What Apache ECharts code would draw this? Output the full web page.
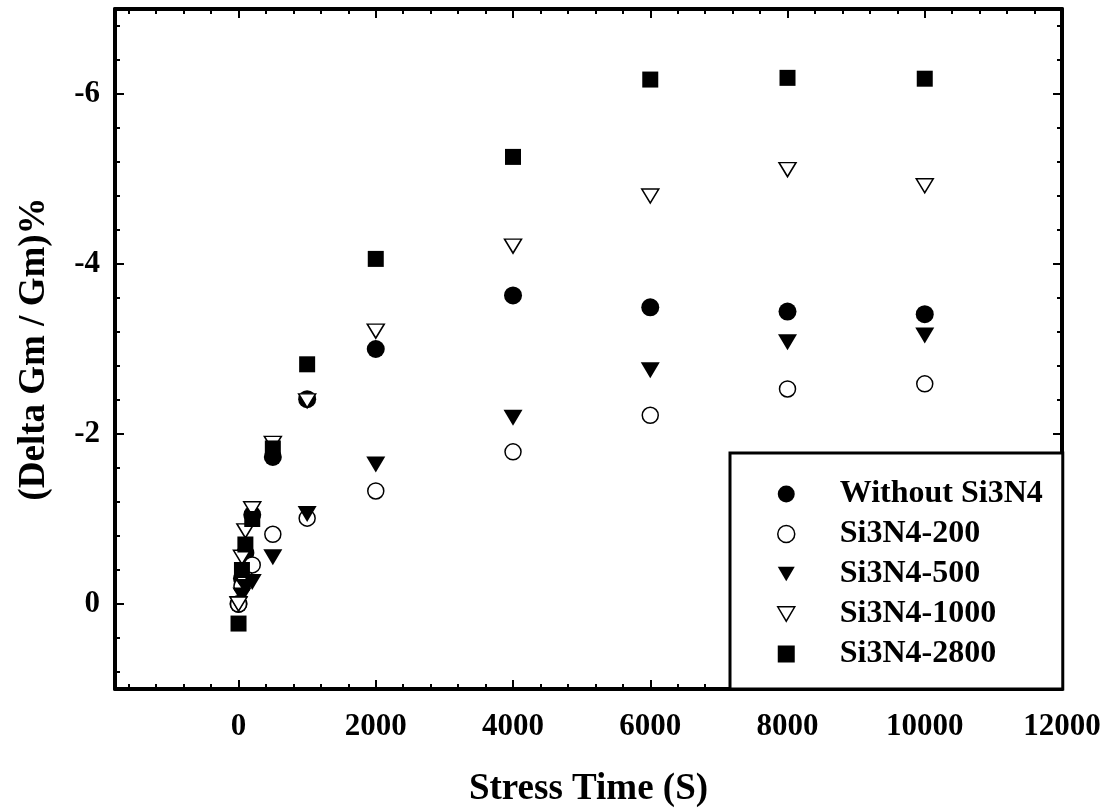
<!DOCTYPE html>
<html>
<head>
<meta charset="utf-8">
<script src="https://cdn.jsdelivr.net/npm/echarts@6/dist/echarts.min.js"></script>
<style>html,body{margin:0;padding:0;background:#fff;}#c{width:1108px;height:809px;}</style>
</head>
<body>
<div id="c"></div>
<script>
// ---- data ----
const times = [0, 50, 100, 200, 500, 1000, 2000, 4000, 6000, 8000, 10000];
const seriesNames = ['Without Si3N4', 'Si3N4-200', 'Si3N4-500', 'Si3N4-1000', 'Si3N4-2800'];
const withoutSi3N4 = [0, -0.30, -0.60, -1.05, -1.73, -2.41, -3.00, -3.63, -3.49, -3.44, -3.41];
const si3n4_200    = [0, -0.21, -0.30, -0.46, -0.82, -1.01, -1.33, -1.79, -2.22, -2.53, -2.59];
const si3n4_500    = [0, -0.10, -0.20, -0.26, -0.55, -1.06, -1.64, -2.19, -2.75, -3.08, -3.16];
const si3n4_1000   = [0, -0.55, -0.86, -1.12, -1.89, -2.39, -3.21, -4.21, -4.80, -5.11, -4.92];
const si3n4_2800   = [0.23, -0.40, -0.70, -1.00, -1.83, -2.82, -4.06, -5.26, -6.17, -6.19, -6.18];
const xMajorTicks = [0, 2000, 4000, 6000, 8000, 10000, 12000];
const xMinorTicks = [-1600, -1200, -800, -400, 400, 800, 1200, 1600, 2400, 2800, 3200, 3600, 4400, 4800, 5200, 5600, 6400, 6800, 7200, 7600, 8400, 8800, 9200, 9600, 10400, 10800, 11200, 11600];
const yMajorTicks = [-6, -4, -2, 0];
const yMinorTicks = [-6.8, -6.4, -5.6, -5.2, -4.8, -4.4, -3.6, -3.2, -2.8, -2.4, -1.6, -1.2, -0.8, -0.4, 0.4, 0.8];
const xRange = [-1800, 12000];
const yRange = [-7, 1];

// ---- chart ----
const FONT = '"Liberation Serif", "Times New Roman", serif';
const DOWN_TRI = 'path://M0,0L20,0L10,17Z';
const chart = echarts.init(document.getElementById('c'), null, {renderer: 'canvas'});

function zip(xs, ys) { return xs.map((x, i) => [x, ys[i]]); }

function xAx(position, ticks, len, main, showLine) {
  return {
    type: 'value', position: position, min: xRange[0], max: xRange[1],
    axisLine: {show: showLine, onZero: false, lineStyle: {color: '#000', width: 4}},
    axisTick: {show: true, inside: true, length: len, customValues: ticks, lineStyle: {color: '#000', width: 2}},
    axisLabel: main ? {show: true, customValues: xMajorTicks, margin: 22, color: '#000',
      fontFamily: FONT, fontWeight: 'bold', fontSize: 31, formatter: v => String(v)} : {show: false},
    splitLine: {show: false},
    name: main ? 'Stress Time (S)' : '', nameLocation: 'middle', nameGap: 82,
    nameTextStyle: {fontFamily: FONT, fontWeight: 'bold', fontSize: 37, color: '#000'}
  };
}
function yAx(position, ticks, len, main, showLine) {
  return {
    type: 'value', position: position, inverse: true, min: yRange[0], max: yRange[1],
    axisLine: {show: showLine, onZero: false, lineStyle: {color: '#000', width: 4}},
    axisTick: {show: true, inside: true, length: len, customValues: ticks, lineStyle: {color: '#000', width: 2}},
    axisLabel: main ? {show: true, customValues: yMajorTicks, margin: 15, color: '#000',
      fontFamily: FONT, fontWeight: 'bold', fontSize: 31, formatter: v => String(v)} : {show: false},
    splitLine: {show: false},
    name: main ? '(Delta Gm / Gm)%' : '', nameLocation: 'middle', nameGap: 62,
    nameTextStyle: {fontFamily: FONT, fontWeight: 'bold', fontSize: 37, color: '#000'}
  };
}

const filled = {color: '#000', borderColor: '#000', borderWidth: 0, opacity: 1};
const hollow = {color: '#fff', borderColor: '#000', borderWidth: 1.5, opacity: 1};

const styles = [
  {symbol: 'circle', size: 18, item: filled},
  {symbol: 'circle', size: 16, item: hollow},
  {symbol: DOWN_TRI, size: [19, 16], item: filled},
  {symbol: DOWN_TRI, size: [17, 14], item: hollow},
  {symbol: 'rect', size: 16, item: filled}
];
const allData = [withoutSi3N4, si3n4_200, si3n4_500, si3n4_1000, si3n4_2800];

const series = seriesNames.map((name, i) => ({
  name: name, type: 'scatter', xAxisIndex: 0, yAxisIndex: 0,
  symbol: styles[i].symbol, symbolSize: styles[i].size,
  itemStyle: styles[i].item, z: 2 + i,
  emphasis: {disabled: true},
  data: zip(times, allData[i])
}));

chart.setOption({
  animation: false,
  backgroundColor: '#fff',
  grid: {left: 115, right: 46, top: 9, bottom: 120, containLabel: false, outerBoundsMode: 'none'},
  xAxis: [
    xAx('bottom', xMajorTicks, 9, true, true),
    xAx('bottom', xMinorTicks, 5, false, false),
    xAx('top', xMajorTicks, 9, false, true),
    xAx('top', xMinorTicks, 5, false, false)
  ],
  yAxis: [
    yAx('left', yMajorTicks, 9, true, true),
    yAx('left', yMinorTicks, 5, false, false),
    yAx('right', yMajorTicks, 9, false, true),
    yAx('right', yMinorTicks, 5, false, false)
  ],
  legend: {
    orient: 'vertical', left: 730, top: 453,
    padding: [25, 20, 19, 47], itemGap: 8, itemWidth: 17, itemHeight: 17,
    backgroundColor: '#fff', borderColor: '#000', borderWidth: 3,
    selectedMode: false, z: 10,
    textStyle: {fontFamily: FONT, fontWeight: 'bold', fontSize: 32, color: '#000', padding: [0, 0, 0, 40]},
    data: seriesNames.map((n, i) => ({name: n, icon: styles[i].symbol, itemStyle: styles[i].item}))
  },
  series: series
});
</script>
</body>
</html>
